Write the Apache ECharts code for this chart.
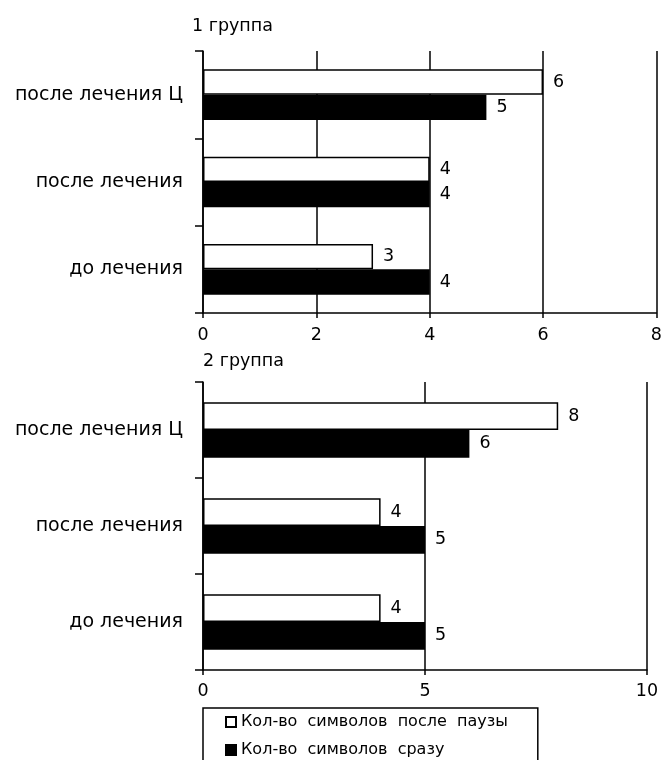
<!DOCTYPE html>
<html>
<head>
<meta charset="utf-8">
<script src="https://cdn.jsdelivr.net/npm/echarts@6/dist/echarts.min.js"></script>
<style>
  html, body { margin: 0; padding: 0; background: #fff; }
  #chart { width: 665px; height: 760px; }
</style>
</head>
<body>
<div id="chart"></div>
<script>
// Categories, bottom to top
const categories = ['до лечения', 'после лечения', 'после лечения Ц'];

// 1 группа
const group1Pause = [3, 4, 6];
const group1Immediate = [4, 4, 5];

// 2 группа
const group2Pause = [4, 4, 8];
const group2Immediate = [5, 5, 6];

const seriesNames = ['Кол-во  символов  после  паузы', 'Кол-во  символов  сразу'];
const groupTitles = ['1 группа', '2 группа'];

const FONT = 'DejaVu Sans';
const LW = 1.5;

const chart = echarts.init(document.getElementById('chart'), null, { renderer: 'canvas' });

function xAxis(gridIndex, max, interval, margin) {
  return {
    type: 'value', gridIndex, min: 0, max, interval,
    axisLine: { show: true, lineStyle: { color: '#000', width: LW } },
    axisTick: { show: true, length: 5, lineStyle: { color: '#000', width: LW } },
    axisLabel: { color: '#000', fontFamily: FONT, fontSize: 17.5, margin },
    splitLine: { show: true, lineStyle: { color: '#000', width: LW } }
  };
}

function yAxis(gridIndex) {
  return {
    type: 'category', gridIndex, data: categories,
    axisLine: { show: true, lineStyle: { color: '#000', width: LW } },
    axisTick: { show: true, length: 8, lineStyle: { color: '#000', width: LW } },
    axisLabel: { color: '#000', fontFamily: FONT, fontSize: 19, margin: 20 },
    splitLine: { show: false }
  };
}

function barSeries(name, data, idx, fill) {
  return {
    type: 'bar', name, data,
    xAxisIndex: idx, yAxisIndex: idx,
    barGap: '0%', barCategoryGap: '42%',
    itemStyle: { color: fill, borderColor: '#000', borderWidth: LW },
    label: {
      show: true, position: 'right', distance: 10,
      color: '#000', fontFamily: FONT, fontSize: 17.5
    }
  };
}

chart.setOption({
  animation: false,
  backgroundColor: '#fff',
  title: [
    { text: groupTitles[0], left: 192, top: 17, padding: 0,
      textStyle: { color: '#000', fontFamily: FONT, fontSize: 17.5, fontWeight: 'normal' } },
    { text: groupTitles[1], left: 203, top: 352, padding: 0,
      textStyle: { color: '#000', fontFamily: FONT, fontSize: 17.5, fontWeight: 'normal' } }
  ],
  grid: [
    { left: 203, top: 51, width: 457, height: 262 },
    { left: 203, top: 382, width: 444, height: 288 }
  ],
  xAxis: [xAxis(0, 8, 2, 13), xAxis(1, 10, 5, 12)],
  yAxis: [yAxis(0), yAxis(1)],
  legend: {
    orient: 'vertical', left: 203, top: 708, height: 90,
    data: seriesNames,
    icon: 'rect', itemWidth: 10, itemHeight: 10, itemGap: 12,
    padding: [6, 30, 20, 22],
    borderColor: '#000', borderWidth: LW,
    textStyle: { color: '#000', fontFamily: FONT, fontSize: 16 }
  },
  series: [
    barSeries(seriesNames[0], group1Pause, 0, '#fff'),
    barSeries(seriesNames[1], group1Immediate, 0, '#000'),
    barSeries(seriesNames[0], group2Pause, 1, '#fff'),
    barSeries(seriesNames[1], group2Immediate, 1, '#000')
  ]
});
</script>
</body>
</html>
